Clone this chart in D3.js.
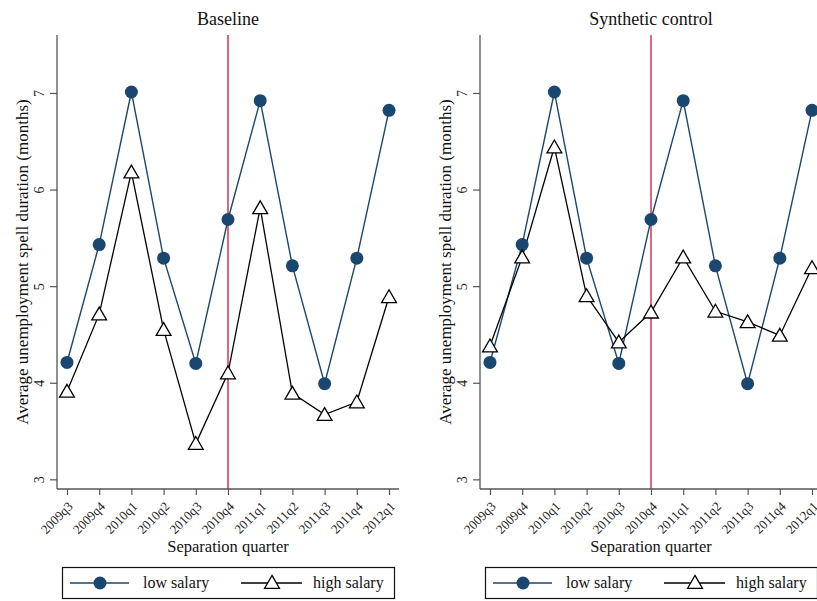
<!DOCTYPE html>
<html><head><meta charset="utf-8">
<script src="https://cdn.jsdelivr.net/npm/d3@7"></script>
<style>body{margin:0;background:#fff}svg{display:block}text{font-family:"Liberation Serif","DejaVu Serif",serif}</style>
</head><body>
<svg id="c" width="817" height="601"></svg>
<script>
const quarters = ["2009q3","2009q4","2010q1","2010q2","2010q3","2010q4","2011q1","2011q2","2011q3","2011q4","2012q1"];
const yTicks = [3,4,5,6,7];
const treatQuarter = "2010q4";
const lowBaseline  = [4.21,5.43,7.01,5.29,4.20,5.69,6.92,5.21,3.99,5.29,6.82];
const highBaseline = [3.91,4.71,6.18,4.55,3.37,4.10,5.81,3.89,3.67,3.80,4.89];
const lowSynth     = [4.21,5.43,7.01,5.29,4.20,5.69,6.92,5.21,3.99,5.29,6.82];
const highSynth    = [4.38,5.30,6.44,4.90,4.42,4.73,5.30,4.74,4.63,4.49,5.19];
const panels = [
  {title:"Baseline", low:lowBaseline, high:highBaseline, ox:0},
  {title:"Synthetic control", low:lowSynth, high:highSynth, ox:423}
];
const navy = "#1a476f", red = "#c8173c", axisCol = "#555";
const svg = d3.select("#c");
const tri = d3.symbol().type(d3.symbolTriangle).size(95);

panels.forEach(p => {
  const g = svg.append("g").attr("transform", `translate(${p.ox},0)`);
  const x = d3.scalePoint().domain(quarters).range([57,399]).padding(0.31);
  const y = d3.scaleLinear().domain([2.9,7.6]).range([489,35]);

  g.append("line").attr("x1",x(treatQuarter)).attr("x2",x(treatQuarter))
    .attr("y1",y(7.6)).attr("y2",y(2.9)).attr("stroke",red).attr("stroke-width",1.3);

  const ya = g.append("g").attr("transform","translate(57,0)")
    .call(d3.axisLeft(y).tickValues(yTicks).tickSize(7).tickFormat(d3.format("d")));
  ya.attr("font-family",null);
  ya.select(".domain").attr("stroke",axisCol).attr("stroke-width",1.3).attr("d",`M0,${y(7.6)}V${y(2.9)}`);
  ya.selectAll(".tick line").attr("stroke",axisCol).attr("stroke-width",1.2);
  ya.selectAll(".tick text").attr("font-size",14).attr("fill","#222")
    .attr("text-anchor","middle").attr("x",0).attr("y",0).attr("dy",0)
    .attr("transform","translate(-13,0) rotate(-90)");

  const xa = g.append("g").attr("transform","translate(0,489)")
    .call(d3.axisBottom(x).tickSize(6));
  xa.attr("font-family",null);
  xa.select(".domain").attr("stroke",axisCol).attr("stroke-width",1.3).attr("d","M57,0H399");
  xa.selectAll(".tick line").attr("stroke",axisCol).attr("stroke-width",1.2);
  xa.selectAll(".tick text").attr("font-size",13).attr("fill","#222")
    .attr("text-anchor","end").attr("x",0).attr("y",0).attr("dy","0.35em")
    .attr("transform","translate(3,15) rotate(-45)");

  g.append("text").attr("x",228).attr("y",25).attr("text-anchor","middle").attr("font-size",18).attr("fill","#111").text(p.title);
  g.append("text").attr("x",228).attr("y",552).attr("text-anchor","middle").attr("font-size",16.5).attr("fill","#111").text("Separation quarter");
  g.append("text").attr("transform",`translate(28,${(35+489)/2}) rotate(-90)`).attr("text-anchor","middle")
    .attr("font-size",17).attr("fill","#111").text("Average unemployment spell duration (months)");

  const line = d3.line().x((d,i)=>x(quarters[i])).y(d=>y(d));
  g.append("path").datum(p.low).attr("d",line).attr("fill","none").attr("stroke",navy).attr("stroke-width",1.4);
  g.append("path").datum(p.high).attr("d",line).attr("fill","none").attr("stroke","#000").attr("stroke-width",1.3);
  g.selectAll("circle.low").data(p.low).join("circle").attr("class","low")
    .attr("cx",(d,i)=>x(quarters[i])).attr("cy",d=>y(d)).attr("r",6.5).attr("fill",navy);
  g.selectAll("path.high").data(p.high).join("path").attr("class","high")
    .attr("d",tri).attr("transform",(d,i)=>`translate(${x(quarters[i])},${y(d)+1.5})`)
    .attr("fill","#fff").attr("stroke","#000").attr("stroke-width",1.3);

  const lg = g.append("g");
  lg.append("rect").attr("x",62.5).attr("y",567.5).attr("width",332).attr("height",31)
    .attr("fill","#fff").attr("stroke","#111").attr("stroke-width",1.2);
  lg.append("line").attr("x1",70).attr("x2",129).attr("y1",583).attr("y2",583).attr("stroke",navy).attr("stroke-width",1.4);
  lg.append("circle").attr("cx",100).attr("cy",583).attr("r",6.5).attr("fill",navy);
  lg.append("text").attr("x",143).attr("y",588).attr("font-size",16).attr("fill","#111").text("low salary");
  lg.append("line").attr("x1",241).attr("x2",302).attr("y1",583).attr("y2",583).attr("stroke","#000").attr("stroke-width",1.3);
  lg.append("path").attr("d",tri).attr("transform","translate(272,584)").attr("fill","#fff").attr("stroke","#000").attr("stroke-width",1.3);
  lg.append("text").attr("x",313).attr("y",588).attr("font-size",16).attr("fill","#111").text("high salary");
});
</script>
</body></html>
